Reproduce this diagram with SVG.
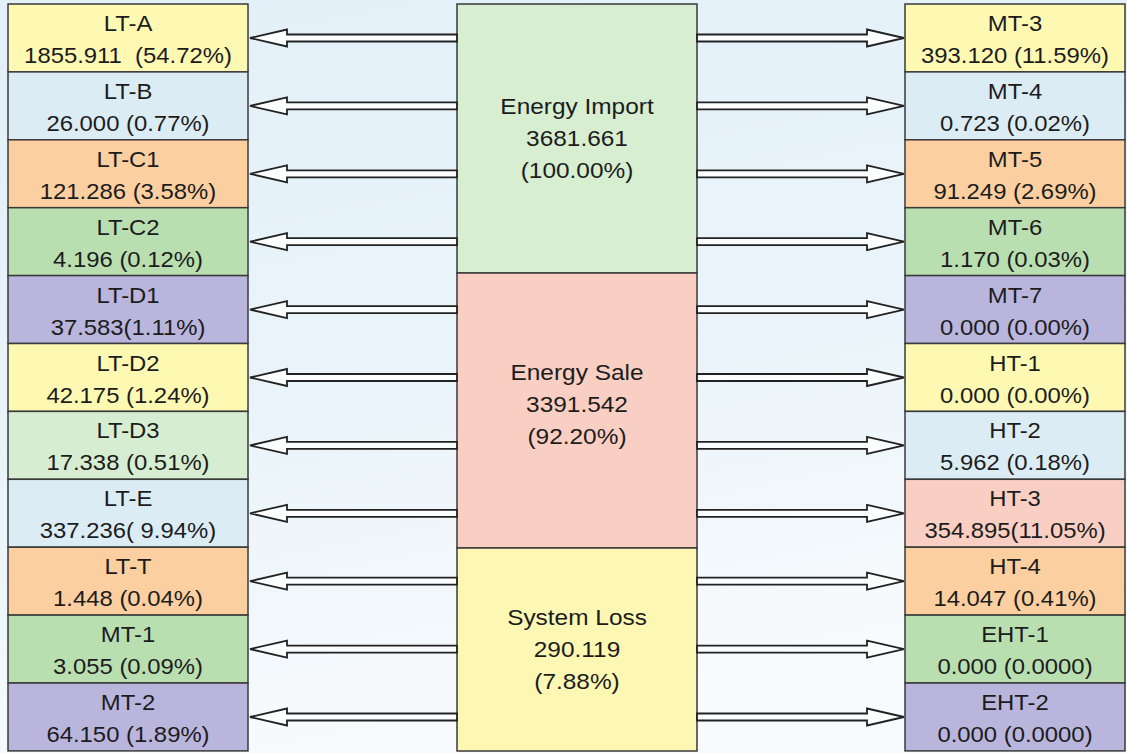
<svg xmlns="http://www.w3.org/2000/svg" width="1127" height="753" viewBox="0 0 1127 753">
<defs>
<linearGradient id="bg" x1="0" y1="0" x2="0.3" y2="1">
<stop offset="0" stop-color="#e2f0f9"/>
<stop offset="0.6" stop-color="#eaf4fa"/>
<stop offset="1" stop-color="#f8fbfd"/>
</linearGradient>
<path id="la" d="M250,0 L287,-8.5 L287,-3.5 L457,-3.5 L457,3.5 L287,3.5 L287,8.5 Z"/>
<path id="ra" d="M904,0 L867,-8.5 L867,-3.5 L697,-3.5 L697,3.5 L867,3.5 L867,8.5 Z"/>
</defs>
<style>
.box{stroke:#3a3a3a;stroke-width:1.5}
.y{fill:#fdf8b2}.b{fill:#dcecf5}.o{fill:#fbcf9f}.g{fill:#b9dfb1}.p{fill:#b9b5dc}.lg{fill:#d7edd1}.pk{fill:#f9cfc3}
.t{font-family:"Liberation Sans",Arial,sans-serif;font-size:21.5px;fill:#1c1c1c;text-anchor:middle}
.c{font-family:"Liberation Sans",Arial,sans-serif;font-size:22px;fill:#1c1c1c;text-anchor:middle}
.arr use{fill:#fbfdfe;stroke:#222;stroke-width:1.8;stroke-linejoin:miter}
</style>
<rect width="1127" height="753" fill="url(#bg)"/>

<g id="energy-import"><rect class="box" x="457" y="4" width="240" height="269" fill="#d7eed1"/>
<text class="c" transform="translate(577,114) scale(1.11,1)">Energy Import</text>
<text class="c" transform="translate(577,146) scale(1.11,1)">3681.661</text>
<text class="c" transform="translate(577,178) scale(1.11,1)" fill="#333">(100.00%)</text></g>
<g id="energy-sale"><rect class="box pk" x="457" y="273" width="240" height="275"/>
<text class="c" transform="translate(577,380) scale(1.11,1)">Energy Sale</text>
<text class="c" transform="translate(577,412) scale(1.11,1)">3391.542</text>
<text class="c" transform="translate(577,444) scale(1.11,1)">(92.20%)</text></g>
<g id="system-loss"><rect class="box" x="457" y="548" width="240" height="203" fill="#fcf7b3"/>
<text class="c" transform="translate(577,625) scale(1.11,1)">System Loss</text>
<text class="c" transform="translate(577,657) scale(1.11,1)">290.119</text>
<text class="c" transform="translate(577,689) scale(1.11,1)">(7.88%)</text></g>

<g id="lt-a"><rect class="box y" x="8" y="4" width="240" height="67.9"/><text class="t" transform="translate(128,31) scale(1.11,1)">LT-A</text><text class="t" transform="translate(128,63) scale(1.11,1)">1855.911&#160; (54.72%)</text></g>
<g id="lt-b"><rect class="box b" x="8" y="71.9" width="240" height="67.9"/><text class="t" transform="translate(128,98.9) scale(1.11,1)">LT-B</text><text class="t" transform="translate(128,130.9) scale(1.11,1)">26.000 (0.77%)</text></g>
<g id="lt-c1"><rect class="box o" x="8" y="139.8" width="240" height="67.9"/><text class="t" transform="translate(128,166.8) scale(1.11,1)">LT-C1</text><text class="t" transform="translate(128,198.8) scale(1.11,1)">121.286 (3.58%)</text></g>
<g id="lt-c2"><rect class="box g" x="8" y="207.7" width="240" height="67.9"/><text class="t" transform="translate(128,234.7) scale(1.11,1)">LT-C2</text><text class="t" transform="translate(128,266.7) scale(1.11,1)">4.196 (0.12%)</text></g>
<g id="lt-d1"><rect class="box p" x="8" y="275.6" width="240" height="67.9"/><text class="t" transform="translate(128,302.6) scale(1.11,1)">LT-D1</text><text class="t" transform="translate(128,334.6) scale(1.11,1)">37.583(1.11%)</text></g>
<g id="lt-d2"><rect class="box y" x="8" y="343.5" width="240" height="67.9"/><text class="t" transform="translate(128,370.5) scale(1.11,1)">LT-D2</text><text class="t" transform="translate(128,402.5) scale(1.11,1)">42.175 (1.24%)</text></g>
<g id="lt-d3"><rect class="box lg" x="8" y="411.4" width="240" height="67.9"/><text class="t" transform="translate(128,438.4) scale(1.11,1)">LT-D3</text><text class="t" transform="translate(128,470.4) scale(1.11,1)">17.338 (0.51%)</text></g>
<g id="lt-e"><rect class="box b" x="8" y="479.3" width="240" height="67.9"/><text class="t" transform="translate(128,506.3) scale(1.11,1)">LT-E</text><text class="t" transform="translate(128,538.3) scale(1.11,1)">337.236( 9.94%)</text></g>
<g id="lt-t"><rect class="box o" x="8" y="547.2" width="240" height="67.9"/><text class="t" transform="translate(128,574.2) scale(1.11,1)">LT-T</text><text class="t" transform="translate(128,606.2) scale(1.11,1)">1.448 (0.04%)</text></g>
<g id="mt-1"><rect class="box g" x="8" y="615.1" width="240" height="67.9"/><text class="t" transform="translate(128,642.1) scale(1.11,1)">MT-1</text><text class="t" transform="translate(128,674.1) scale(1.11,1)">3.055 (0.09%)</text></g>
<g id="mt-2"><rect class="box p" x="8" y="683" width="240" height="67.9"/><text class="t" transform="translate(128,710) scale(1.11,1)">MT-2</text><text class="t" transform="translate(128,742) scale(1.11,1)">64.150 (1.89%)</text></g>

<g id="mt-3"><rect class="box y" x="905" y="4" width="220" height="67.9"/><text class="t" transform="translate(1015,31) scale(1.11,1)">MT-3</text><text class="t" transform="translate(1015,63) scale(1.11,1)">393.120 (11.59%)</text></g>
<g id="mt-4"><rect class="box b" x="905" y="71.9" width="220" height="67.9"/><text class="t" transform="translate(1015,98.9) scale(1.11,1)">MT-4</text><text class="t" transform="translate(1015,130.9) scale(1.11,1)">0.723 (0.02%)</text></g>
<g id="mt-5"><rect class="box o" x="905" y="139.8" width="220" height="67.9"/><text class="t" transform="translate(1015,166.8) scale(1.11,1)">MT-5</text><text class="t" transform="translate(1015,198.8) scale(1.11,1)">91.249 (2.69%)</text></g>
<g id="mt-6"><rect class="box g" x="905" y="207.7" width="220" height="67.9"/><text class="t" transform="translate(1015,234.7) scale(1.11,1)">MT-6</text><text class="t" transform="translate(1015,266.7) scale(1.11,1)">1.170 (0.03%)</text></g>
<g id="mt-7"><rect class="box p" x="905" y="275.6" width="220" height="67.9"/><text class="t" transform="translate(1015,302.6) scale(1.11,1)">MT-7</text><text class="t" transform="translate(1015,334.6) scale(1.11,1)">0.000 (0.00%)</text></g>
<g id="ht-1"><rect class="box y" x="905" y="343.5" width="220" height="67.9"/><text class="t" transform="translate(1015,370.5) scale(1.11,1)">HT-1</text><text class="t" transform="translate(1015,402.5) scale(1.11,1)">0.000 (0.00%)</text></g>
<g id="ht-2"><rect class="box b" x="905" y="411.4" width="220" height="67.9"/><text class="t" transform="translate(1015,438.4) scale(1.11,1)">HT-2</text><text class="t" transform="translate(1015,470.4) scale(1.11,1)">5.962 (0.18%)</text></g>
<g id="ht-3"><rect class="box pk" x="905" y="479.3" width="220" height="67.9"/><text class="t" transform="translate(1015,506.3) scale(1.11,1)">HT-3</text><text class="t" transform="translate(1015,538.3) scale(1.11,1)">354.895(11.05%)</text></g>
<g id="ht-4"><rect class="box o" x="905" y="547.2" width="220" height="67.9"/><text class="t" transform="translate(1015,574.2) scale(1.11,1)">HT-4</text><text class="t" transform="translate(1015,606.2) scale(1.11,1)">14.047 (0.41%)</text></g>
<g id="eht-1"><rect class="box g" x="905" y="615.1" width="220" height="67.9"/><text class="t" transform="translate(1015,642.1) scale(1.11,1)">EHT-1</text><text class="t" transform="translate(1015,674.1) scale(1.11,1)">0.000 (0.0000)</text></g>
<g id="eht-2"><rect class="box p" x="905" y="683" width="220" height="67.9"/><text class="t" transform="translate(1015,710) scale(1.11,1)">EHT-2</text><text class="t" transform="translate(1015,742) scale(1.11,1)">0.000 (0.0000)</text></g>

<g id="connectors" class="arr">
<use href="#la" y="38"/><use href="#la" y="105.9"/><use href="#la" y="173.8"/><use href="#la" y="241.7"/><use href="#la" y="309.6"/><use href="#la" y="377.5"/><use href="#la" y="445.4"/><use href="#la" y="513.3"/><use href="#la" y="581.2"/><use href="#la" y="649.1"/><use href="#la" y="717"/>
<use href="#ra" y="38"/><use href="#ra" y="105.9"/><use href="#ra" y="173.8"/><use href="#ra" y="241.7"/><use href="#ra" y="309.6"/><use href="#ra" y="377.5"/><use href="#ra" y="445.4"/><use href="#ra" y="513.3"/><use href="#ra" y="581.2"/><use href="#ra" y="649.1"/><use href="#ra" y="717"/>
</g>
</svg>
